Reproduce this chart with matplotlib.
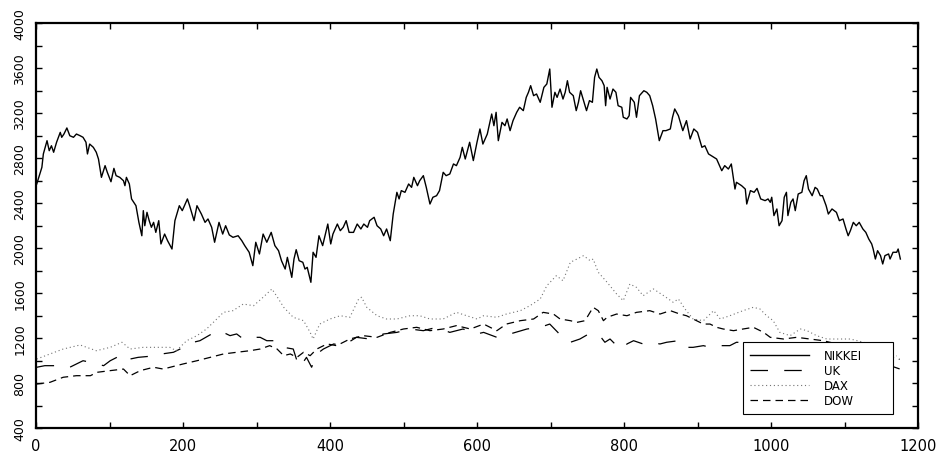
import matplotlib
matplotlib.use("Agg")
import matplotlib.pyplot as plt
from matplotlib.ticker import MultipleLocator

# index values read by trading day
nikkei_x = [1, 8, 10, 15, 18, 21, 24, 28, 33, 35, 38, 42, 46, 51, 55, 60, 64, 68, 70, 73,
            78, 82, 85, 89, 94, 97, 102, 106, 109, 114, 119, 121, 123, 127, 130, 136, 140, 144, 146, 148,
            151, 154, 157, 160, 163, 167, 170, 175, 179, 185, 189, 195, 199, 206, 209, 215, 219, 225, 230, 234,
            239, 243, 249, 254, 258, 263, 268, 275, 280, 284, 290, 295, 299, 304,
            309, 314, 320, 325, 330, 334, 339, 342, 348, 351, 354, 358, 363, 366, 369, 374, 377, 381, 385, 390,
            397, 401, 404, 410, 414, 418, 422, 426, 432, 437, 442, 446, 451, 454, 460, 464, 469, 473, 477, 482,
            486, 491, 494, 497, 502, 507, 511, 514, 519, 522, 527, 531, 536, 540, 545, 549, 554, 558, 563, 568,
            572, 577, 580, 584, 590, 595, 600,
            604, 608, 614, 620, 623, 626, 629, 634, 638, 641, 645, 649, 654, 658, 663, 667, 670, 673, 677, 681,
            686, 691, 695, 699, 702, 706, 709, 713, 717, 720, 723, 726, 731, 735, 738, 741, 745, 749, 753, 757,
            760, 763, 766, 770, 773, 775, 777, 781, 785, 789, 792, 797, 799, 804, 807, 809, 814, 817, 821, 827,
            831, 835, 839, 843, 848, 853, 857, 863, 866, 869, 874, 880, 885, 890, 895, 900, 906, 910, 915,
            926, 933, 937, 942, 946, 951, 953, 960, 965, 967, 972, 977, 981, 986, 992, 996, 999, 1001, 1004, 1008,
            1011, 1015, 1018, 1021, 1023, 1027, 1030, 1033, 1037, 1042, 1045, 1048, 1051, 1056, 1060, 1063, 1067, 1070, 1075, 1078,
            1083, 1089, 1093, 1098, 1102, 1105, 1108, 1112, 1116, 1120, 1125, 1129, 1133, 1137, 1139, 1142, 1145, 1149, 1152, 1155,
            1160, 1162, 1166, 1171, 1173, 1176]
nikkei_y = [2569, 2717, 2836, 2954, 2865, 2909, 2851, 2940, 3028, 2984, 3013, 3067, 2998, 2984, 3013, 2998, 2984, 2940, 2836, 2924,
            2895, 2851, 2791, 2628, 2732, 2673, 2589, 2708, 2643, 2628, 2598, 2554, 2628, 2569, 2436, 2376, 2228, 2109, 2332, 2198,
            2317, 2243, 2184, 2228, 2139, 2243, 2036, 2124, 2065, 1991, 2243, 2376, 2332, 2436, 2376, 2243, 2376, 2302, 2228, 2258,
            2184, 2051, 2228, 2124, 2198, 2116, 2095, 2109, 2065, 2021, 1962, 1843, 2051, 1947,
            2124, 2051, 2139, 2021, 1976, 1887, 1813, 1917, 1739, 1902, 1985, 1887, 1873, 1813, 1828, 1695, 1962, 1917, 2109, 2021,
            2213, 2036, 2124, 2213, 2154, 2184, 2243, 2139, 2139, 2213, 2169, 2213, 2184, 2243, 2273, 2198, 2169, 2109, 2169, 2065,
            2302, 2495, 2436, 2510, 2495, 2569, 2539, 2628, 2554, 2598, 2643, 2539, 2391, 2451, 2465, 2510, 2673, 2643, 2658, 2747,
            2732, 2806, 2895, 2791, 2940, 2777, 2940,
            3058, 2924, 3013, 3191, 3087, 3206, 2954, 3117, 3087, 3147, 3043, 3132, 3206, 3251, 3221, 3339, 3384, 3443, 3354, 3369,
            3295, 3428, 3458, 3591, 3251, 3384, 3339, 3413, 3324, 3384, 3487, 3384, 3354, 3221, 3295, 3398, 3310, 3221, 3310, 3295,
            3517, 3591, 3517, 3487, 3443, 3265, 3428, 3324, 3413, 3384, 3265, 3251, 3162, 3147, 3176, 3339, 3295, 3162, 3354, 3398,
            3384, 3354, 3265, 3147, 2954, 3043, 3043, 3058, 3162, 3236, 3176, 3043, 3132, 2969, 3058, 3028, 2895, 2909, 2836,
            2791, 2687, 2732, 2702, 2747, 2524, 2584, 2554, 2524, 2391, 2510, 2495, 2530, 2436, 2421, 2436, 2406, 2451, 2288, 2347,
            2198, 2243, 2451, 2495, 2288, 2406, 2436, 2332, 2480, 2495, 2598, 2643, 2524, 2465, 2539, 2524, 2465, 2465, 2376, 2302,
            2347, 2317, 2243, 2258, 2169, 2109, 2154, 2228, 2198, 2228, 2169, 2139, 2080, 2036, 1991, 1902, 1976, 1932, 1858, 1932,
            1947, 1902, 1962, 1962, 1991, 1902]

uk_x = [1, 12, 37, 46, 64, 74, 92, 101, 119, 128, 139, 164, 171, 187, 196, 214, 223, 239, 250, 264,
        273, 282, 291, 305, 314, 328, 337, 350, 355, 359, 368, 375, 382, 391, 405, 418, 436, 454, 473, 491,
        509, 527, 545, 563, 581, 600, 609, 627, 645, 668, 686, 699, 710, 717, 727, 740, 752, 767, 774, 781,
        790, 799, 804, 813, 826, 835, 849, 858, 874, 881, 894, 908, 917, 931, 944, 953, 1000, 1060, 1120, 1175]
uk_y = [940, 954, 954, 940, 998, 984, 954, 998, 1058, 1013, 1028, 1043, 1058, 1073, 1102, 1162, 1176, 1236, 1265, 1221,
        1236, 1191, 1206, 1206, 1176, 1176, 1117, 1102, 998, 940, 1028, 940, 1058, 1102, 1147, 1132, 1206, 1191, 1236, 1250,
        1280, 1265, 1295, 1250, 1280, 1236, 1250, 1206, 1236, 1280, 1295, 1324, 1250, 1191, 1162, 1191, 1236, 1221, 1162, 1191,
        1132, 1102, 1147, 1176, 1147, 1162, 1147, 1162, 1176, 1117, 1117, 1132, 1117, 1132, 1132, 1162, 1150, 1120, 1050, 925]

dax_x = [1, 19, 37, 60, 82, 101, 117, 128, 146, 164, 182, 191, 205, 219, 232, 246, 255, 268, 282, 296,
         309, 321, 330, 337, 350, 364, 373, 377, 386, 400, 414, 427, 439, 443, 450, 464, 477, 491, 509, 522,
         536, 554, 572, 586, 600, 609, 627, 640, 659, 672, 686, 695, 708, 717, 727, 736, 745, 754, 758, 765,
         777, 790, 799, 808, 817, 826, 840, 854, 867, 874, 883, 894, 908, 922, 931, 944, 962, 976, 985, 994,
         1003, 1012, 1026, 1040, 1049, 1062, 1076, 1089, 1108, 1126, 1150, 1171]
dax_y = [1013, 1058, 1102, 1138, 1087, 1117, 1162, 1102, 1117, 1117, 1117, 1087, 1176, 1221, 1280, 1369, 1428, 1443, 1502, 1487,
         1562, 1636, 1547, 1473, 1384, 1354, 1250, 1191, 1324, 1369, 1398, 1384, 1547, 1562, 1473, 1398, 1369, 1369, 1398, 1398,
         1369, 1369, 1428, 1398, 1369, 1398, 1384, 1413, 1443, 1487, 1547, 1665, 1754, 1709, 1873, 1902, 1932, 1887, 1902, 1784,
         1695, 1591, 1532, 1680, 1650, 1576, 1636, 1576, 1517, 1547, 1458, 1369, 1354, 1443, 1369, 1398, 1443, 1473, 1458, 1398,
         1354, 1250, 1221, 1280, 1265, 1221, 1191, 1191, 1191, 1162, 1100, 1040]

dow_x = [1, 19, 37, 55, 74, 83, 101, 119, 128, 142, 160, 173, 191, 200, 219, 237, 255, 273, 291, 305,
         318, 328, 337, 346, 355, 364, 373, 382, 396, 409, 427, 445, 464, 482, 500, 518, 536, 554, 572, 591,
         609, 627, 640, 659, 677, 690, 704, 713, 727, 736, 747, 758, 765, 772, 777, 790, 804, 817, 835, 849,
         863, 876, 885, 894, 908, 917, 926, 935, 949, 962, 976, 990, 999, 1017, 1035, 1053, 1071, 1120, 1166, 1175]
dow_y = [791, 806, 851, 865, 865, 895, 910, 924, 865, 910, 940, 924, 954, 969, 998, 1028, 1058, 1073, 1087, 1102,
         1132, 1102, 1043, 1058, 1028, 1073, 1043, 1102, 1147, 1132, 1191, 1221, 1206, 1250, 1280, 1295, 1265, 1280, 1310, 1280,
         1324, 1265, 1324, 1354, 1369, 1428, 1413, 1369, 1354, 1339, 1354, 1473, 1443, 1354, 1384, 1413, 1398, 1428, 1443, 1413,
         1443, 1413, 1398, 1369, 1324, 1324, 1295, 1280, 1265, 1280, 1295, 1250, 1206, 1191, 1206, 1191, 1176, 1100, 1028, 1010]

plt.rcParams['font.family'] = ['DejaVu Sans']

fig = plt.figure(figsize=(9.44, 4.52), dpi=100)
ax = fig.add_axes([36 / 944, 23 / 452, 882 / 944, 405 / 452])

ax.plot(nikkei_x, nikkei_y, color="k", linewidth=1.0, label="NIKKEI")
ax.plot(uk_x, uk_y, color="k", linewidth=0.9, dashes=(14, 13), label="UK")
ax.plot(dax_x, dax_y, color="0.45", linewidth=0.8, dashes=(1, 2.5), label="DAX")
ax.plot(dow_x, dow_y, color="k", linewidth=0.9, dashes=(6, 4), label="DOW")

ax.set_xlim(0, 1200)
ax.set_ylim(400, 4000)
ax.xaxis.set_major_locator(MultipleLocator(200))
ax.xaxis.set_minor_locator(MultipleLocator(100))
ax.yaxis.set_major_locator(MultipleLocator(400))
ax.yaxis.set_minor_locator(MultipleLocator(200))
ax.tick_params(which="both", direction="in", top=True, right=True, length=4, width=1)
ax.tick_params(axis="x", labelsize=10.5, pad=7)
ax.tick_params(axis="y", labelsize=9, pad=7, labelrotation=90)
for lab in ax.get_yticklabels():
    lab.set_va("center")

for sp in ax.spines.values():
    sp.set_linewidth(1.6)

leg = ax.legend(loc="lower left", bbox_to_anchor=(0.8016, 0.035, 0.170, 0.175), mode="expand",
                fontsize=8.5, frameon=True, fancybox=False, framealpha=1, edgecolor="k",
                handlelength=5.0, handletextpad=1.3, labelspacing=0.18, borderpad=0.55, borderaxespad=0)
leg.get_frame().set_linewidth(0.8)

plt.savefig("out.png", dpi=100)
